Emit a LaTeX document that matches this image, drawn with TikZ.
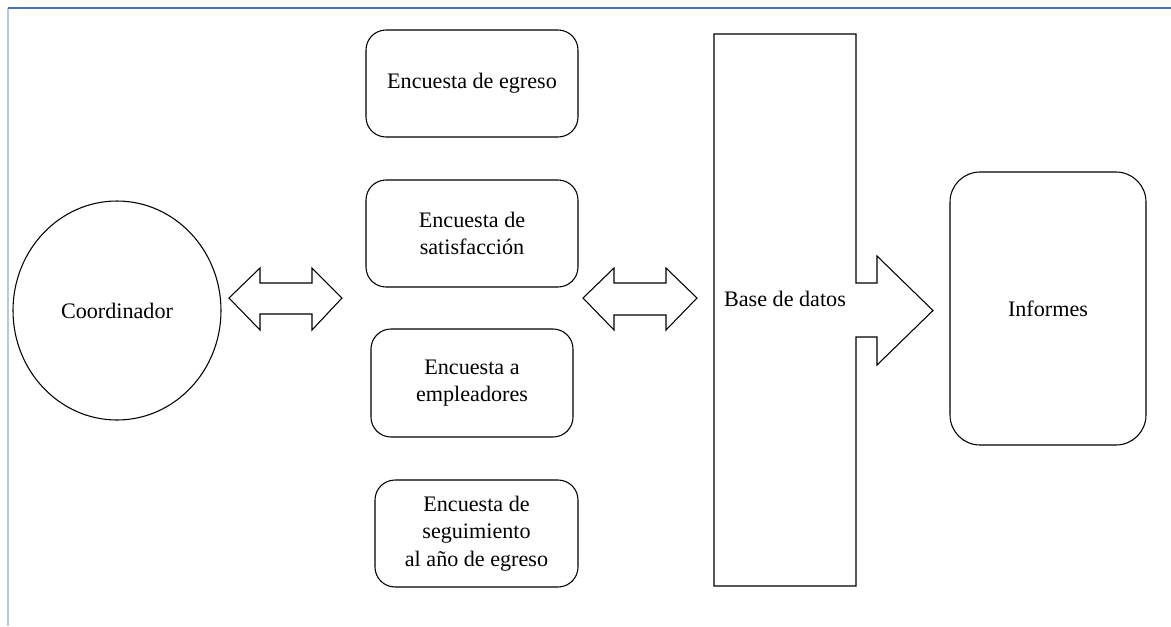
\documentclass[tikz,border=0pt]{standalone}
\usepackage{fontspec}
\setmainfont{Liberation Serif}
\usetikzlibrary{shapes.geometric}
\definecolor{frametop}{HTML}{4A72B2}
\definecolor{frameleft}{HTML}{B8C8E0}
\tikzset{
  shape line/.style={draw=black, line width=0.8pt},
  survey/.style={shape line, rounded corners=15pt, align=center, inner sep=0pt,
    font=\fontsize{16.6}{20.6}\selectfont},
  label text/.style={align=center, inner sep=0pt, font=\fontsize{16.6}{20.6}\selectfont},
}
\begin{document}
\begin{tikzpicture}[x=0.75pt, y=-0.75pt]
\useasboundingbox (0,0) rectangle (1171,626);
% frame
\draw[frameleft, line width=1pt] (8,8) -- (8,626);
\draw[frametop, line width=1pt] (8,8) -- (1171,8);
% coordinator
\node[shape line, ellipse, minimum width=156pt, minimum height=164.25pt, inner sep=0pt,
  label text] (coord) at (117,310.5) {Coordinador};
% surveys
\node[survey, minimum width=159pt, minimum height=80.25pt] (s1) at (472,83.5) {Encuesta de egreso};
\node[survey, minimum width=159pt, minimum height=80.25pt] (s2) at (472,233.5) {Encuesta de\\satisfacción};
\node[survey, minimum width=151.5pt, minimum height=81pt] (s3) at (472,383) {Encuesta a\\empleadores};
\node[survey, minimum width=152.25pt, minimum height=80.25pt] (s4) at (476.5,533.5) {Encuesta de\\seguimiento\\al año de egreso};
% double arrows
\draw[shape line, line join=miter] (229,298) -- (260,268) -- (260,283) -- (312,283) -- (312,268)
  -- (342,298) -- (312,330) -- (312,314) -- (260,314) -- (260,330) -- cycle;
\draw[shape line, line join=miter] (583,298) -- (614,268) -- (614,283) -- (666,283) -- (666,268)
  -- (697,298) -- (666,330) -- (666,315) -- (614,315) -- (614,330) -- cycle;
% database with arrow
\draw[shape line, line join=miter] (714,34) -- (856,34) -- (856,283) -- (877,283) -- (877,256)
  -- (933,310.5) -- (877,365) -- (877,337) -- (856,337) -- (856,586) -- (714,586) -- cycle;
\node[label text] (db) at (785,299) {Base de datos};
% reports
\node[survey, rounded corners=22.5pt, minimum width=147pt, minimum height=204.75pt] (inf) at (1048,308.5) {Informes};
\end{tikzpicture}
\end{document}
